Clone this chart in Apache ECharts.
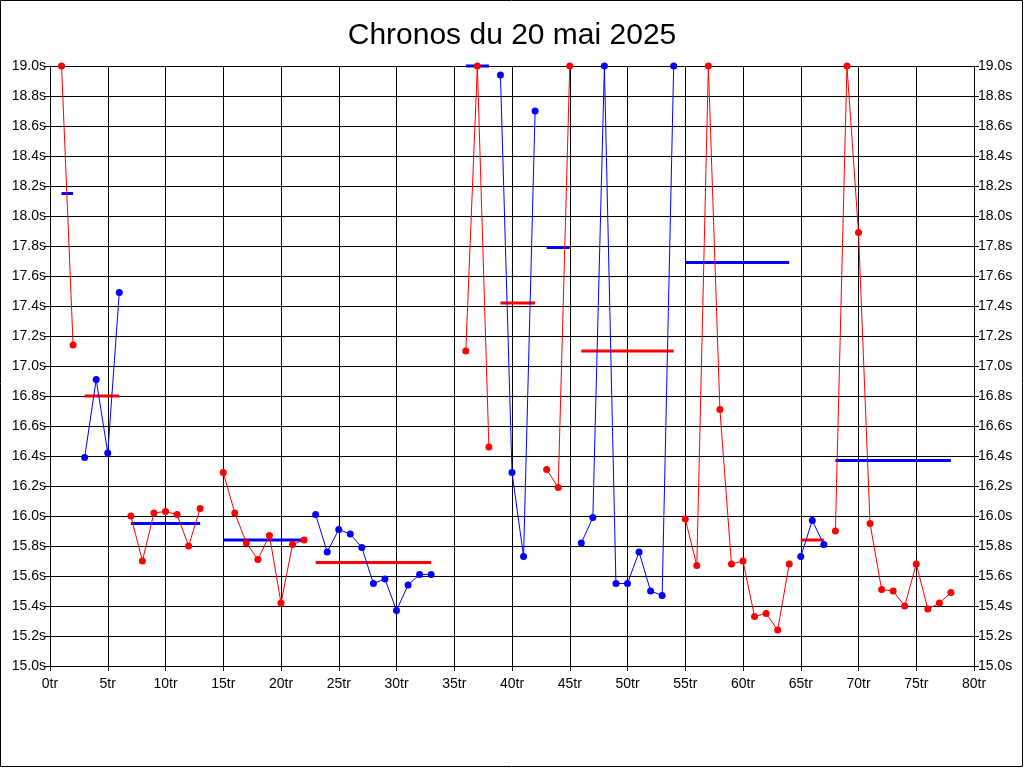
<!DOCTYPE html>
<html>
<head>
<meta charset="utf-8">
<script src="https://cdn.jsdelivr.net/npm/echarts@6/dist/echarts.min.js"></script>
<style>
html,body{margin:0;padding:0;background:#fff;}
#chart{width:1024px;height:768px;}
</style>
</head>
<body>
<div id="chart"></div>
<script>
// Lap number of the first lap in each run
const runStarts = [1, 3, 7, 15, 23, 36, 39, 43, 46, 55, 65, 68];
// Group of each run ('A' drawn red with a blue average, 'B' the other way round)
const runGroups = ['A', 'B', 'A', 'A', 'B', 'A', 'B', 'A', 'B', 'A', 'B', 'A'];
// Lap times (seconds) for each run (clipped at 19.0)
const run1 = [19.0, 17.14];
const run2 = [16.39, 16.91, 16.42, 17.49];
const run3 = [16.00, 15.70, 16.02, 16.03, 16.01, 15.80, 16.05];
const run4 = [16.29, 16.02, 15.82, 15.71, 15.87, 15.42, 15.81, 15.84];
const run5 = [16.01, 15.76, 15.91, 15.88, 15.79, 15.55, 15.58, 15.37, 15.54, 15.61, 15.61];
const run6 = [17.10, 19.0, 16.46];
const run7 = [18.94, 16.29, 15.73, 18.70];
const run8 = [16.31, 16.19, 19.0];
const run9 = [15.82, 15.99, 19.0, 15.55, 15.55, 15.76, 15.50, 15.47, 19.0];
const run10 = [15.98, 15.67, 19.0, 16.71, 15.68, 15.70, 15.33, 15.35, 15.24, 15.68];
const run11 = [15.73, 15.97, 15.81];
const run12 = [15.90, 19.0, 17.89, 15.95, 15.51, 15.50, 15.40, 15.68, 15.38, 15.42, 15.49];
const runs = [run1, run2, run3, run4, run5, run6, run7, run8, run9, run10, run11, run12];
// Average per run (seconds)
const runAverages = [18.15, 16.80, 15.95, 15.84, 15.69, 19.0, 17.42, 17.79, 17.10, 17.69, 15.84, 16.37];
// Axis ticks
const xTicks = {min: 0, max: 80, step: 5, suffix: 'tr'};
const yTicks = {min: 15.0, max: 19.0, step: 0.2, suffix: 's'};

const RED = '#ff0000', BLUE = '#0000ff';
const lineColor = {A: RED, B: BLUE};
const avgColor = {A: BLUE, B: RED};
const font = '"Liberation Sans", Arial, sans-serif';

const series = [];
runs.forEach((r, i) => {
  const s = runStarts[i], e = s + r.length - 1;
  series.push({
    type: 'line', silent: true, clip: false, symbol: 'none',
    data: [[s, runAverages[i]], [e, runAverages[i]]],
    lineStyle: {color: avgColor[runGroups[i]], width: 3},
    z: 2
  });
});
runs.forEach((r, i) => {
  const s = runStarts[i];
  const col = lineColor[runGroups[i]];
  series.push({
    type: 'line', clip: false, symbol: 'circle', symbolSize: 7,
    data: r.map((v, k) => [s + k, v]),
    lineStyle: {color: col, width: 1},
    itemStyle: {color: col},
    z: 3
  });
});

const yAxisBase = {
  type: 'value', min: yTicks.min, max: yTicks.max, interval: yTicks.step,
  axisLine: {show: true, lineStyle: {color: '#000', width: 1}},
  axisTick: {show: true, length: 5, lineStyle: {color: '#000'}},
  axisLabel: {color: '#000', fontSize: 14, fontFamily: font, margin: 4,
    formatter: v => v.toFixed(1) + yTicks.suffix}
};

const chart = echarts.init(document.getElementById('chart'), null, {renderer: 'canvas'});
chart.setOption({
  backgroundColor: '#fff',
  animation: false,
  title: {
    text: 'Chronos du 20 mai 2025', left: 'center', top: 16,
    textStyle: {color: '#000', fontSize: 30, fontWeight: 'normal', fontFamily: font}
  },
  grid: {left: 50, right: 50, top: 66, bottom: 102, containLabel: false},
  xAxis: {
    type: 'value', min: xTicks.min, max: xTicks.max, interval: xTicks.step,
    axisLine: {show: true, onZero: false, lineStyle: {color: '#000', width: 1}},
    axisTick: {show: true, length: 5, lineStyle: {color: '#000'}},
    axisLabel: {color: '#000', fontSize: 14, fontFamily: font, margin: 11,
      formatter: v => v + xTicks.suffix},
    splitLine: {show: true, lineStyle: {color: '#000', width: 1}}
  },
  yAxis: [
    Object.assign({}, yAxisBase, {position: 'left',
      splitLine: {show: true, lineStyle: {color: '#000', width: 1}}}),
    Object.assign({}, yAxisBase, {position: 'right', splitLine: {show: false}})
  ],
  graphic: [{
    type: 'rect', silent: true, z: 100,
    shape: {x: 0.5, y: 0.5, width: 1022, height: 766},
    style: {fill: 'none', stroke: '#000', lineWidth: 1}
  }],
  series: series
});
</script>
</body>
</html>
